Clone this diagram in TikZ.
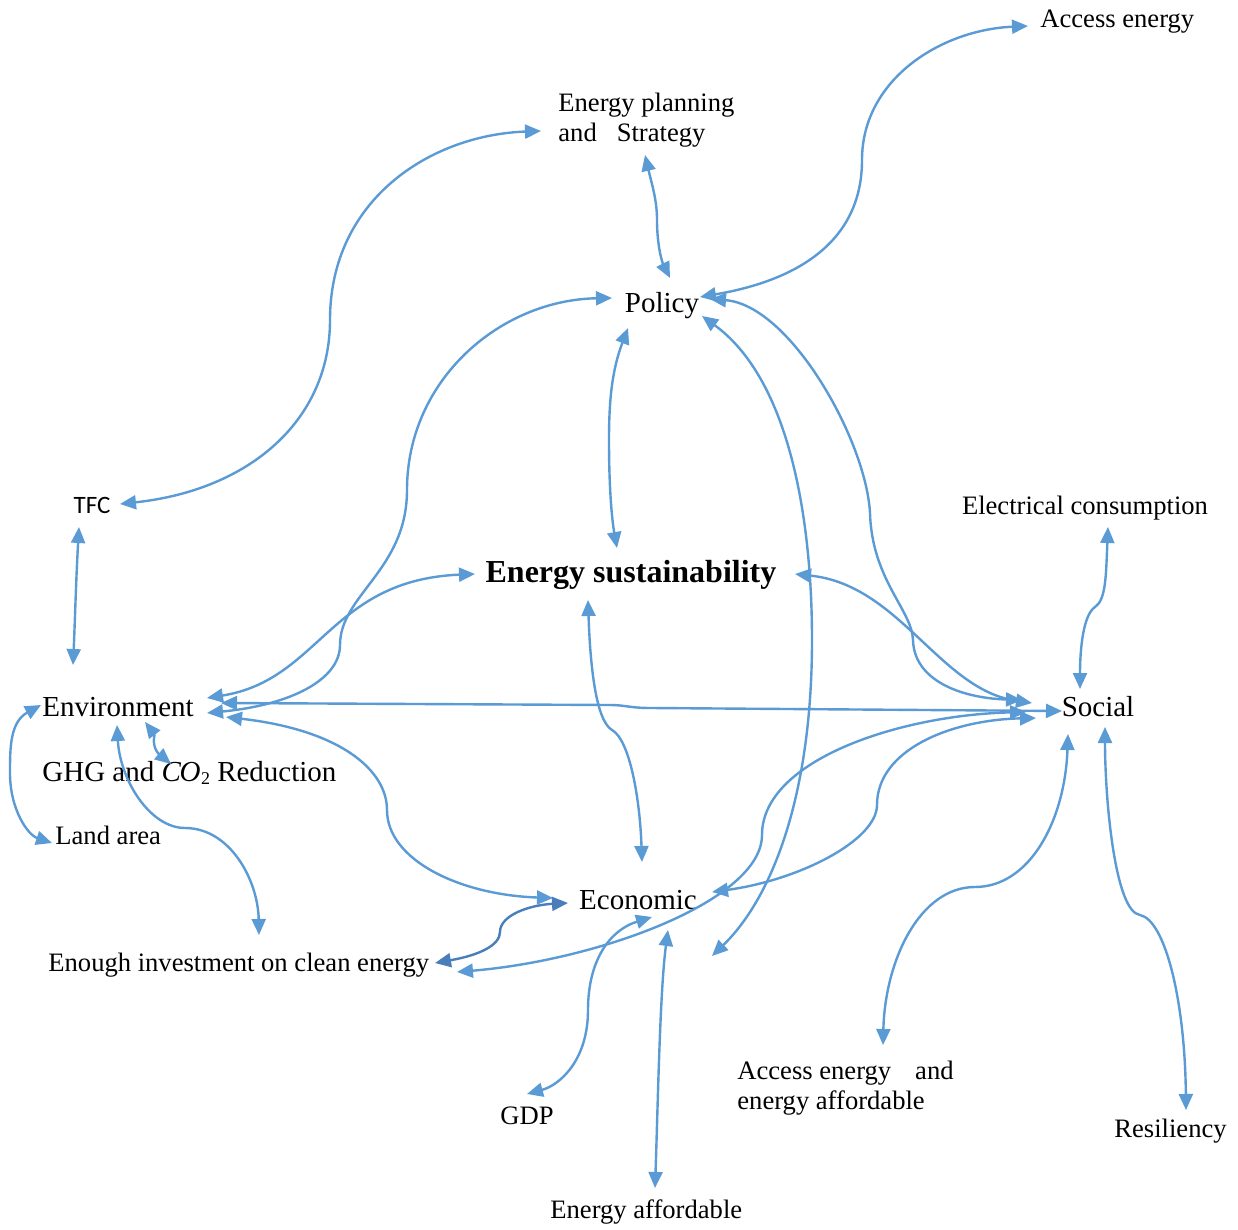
\documentclass[tikz,border=0pt]{standalone}
\usepackage{fontspec}
\setmainfont{Liberation Serif}
\newfontfamily\calibrifont{Carlito}
\usetikzlibrary{arrows.meta}
\definecolor{linkblue}{HTML}{5B9BD5}
\definecolor{darklink}{HTML}{4A7EBB}
\begin{document}
\begin{tikzpicture}[x=0.5pt,y=-0.5pt,
  >={Triangle[length=8pt,width=7pt]},
  mainlbl/.style={inner sep=0pt, font=\fontsize{14.5}{17}\selectfont},
  sublbl/.style={inner sep=0pt, font=\fontsize{13.3}{15}\selectfont},
  link/.style={draw=linkblue, line width=1.2pt, <->},
  darkl/.style={draw=darklink, line width=1.2pt, <->}]
\useasboundingbox[fill=white] (0,0) rectangle (1238,1230);

% ---------- nodes ----------
\node[mainlbl, anchor=base] (policy) at (662,313) {Policy};
\node[inner sep=0pt, anchor=base, font=\fontsize{16}{19}\selectfont\bfseries] (es) at (631,582) {Energy sustainability};
\node[mainlbl, anchor=base] (env) at (118,716) {Environment};
\node[mainlbl, anchor=base] (soc) at (1098,716) {Social};
\node[mainlbl, anchor=base] (eco) at (638,909) {Economic};
\node[mainlbl, anchor=base west] (ghg) at (42,781) {GHG and {\itshape C\kern-0.05em O}\kern0.02em\raisebox{-0.25ex}{\fontsize{9}{10}\selectfont 2} Reduction};
\node[sublbl, anchor=base west] (land) at (55,844) {Land area};
\node[sublbl, anchor=base west] (inv) at (48,971) {Enough investment on clean energy};
\node[inner sep=0pt, anchor=base, font=\calibrifont\fontsize{12.5}{15}\selectfont] (tfc) at (92,513) {TFC};
\node[sublbl, anchor=base] (elec) at (1085,514) {Electrical consumption};
\node[sublbl, anchor=base west] (acc) at (1040,28) {Access energy};
\node[sublbl, anchor=north west, align=left] (plan) at (558,93) {Energy planning\\and\hspace{0.75em}Strategy};
\node[sublbl, anchor=base west] (gdp) at (500,1124) {GDP};
\node[sublbl, anchor=north west, align=left] (aea) at (737,1061) {Access energy\hspace{0.9em}and\\energy affordable};
\node[sublbl, anchor=base west] (res) at (1114,1137) {Resiliency};
\node[sublbl, anchor=base west] (eaf) at (550,1218) {Energy affordable};

% ---------- connector end points ----------
\coordinate (tfc-r) at (120,504);
\coordinate (tfc-b) at (79,527);
\coordinate (plan-l) at (541,131);
\coordinate (plan-b) at (645,155);
\coordinate (acc-l) at (1028,26);
\coordinate (pol-t) at (670,278);
\coordinate (pol-l) at (612,298);
\coordinate (pol-r1) at (700,297);
\coordinate (pol-r2) at (710,299);
\coordinate (pol-r3) at (702,316);
\coordinate (pol-b) at (628,328);
\coordinate (es-t) at (617,548);
\coordinate (es-l) at (475,574);
\coordinate (es-r) at (795,574);
\coordinate (es-b) at (588,600);
\coordinate (env-t) at (73,665);
\coordinate (env-l) at (41,705);
\coordinate (env-r1) at (207,698);
\coordinate (env-r2) at (207,713);
\coordinate (env-r3) at (221,703);
\coordinate (env-r4) at (226,717);
\coordinate (env-b1) at (145,722);
\coordinate (env-b2) at (117,725);
\coordinate (ghg-t) at (171,764);
\coordinate (land-l) at (52,843);
\coordinate (inv-t) at (259,935);
\coordinate (inv-r1) at (435,963);
\coordinate (inv-r2) at (457,972);
\coordinate (eco-l1) at (553,898);
\coordinate (eco-l2) at (568,903);
\coordinate (eco-t) at (642,862);
\coordinate (eco-r) at (712,892);
\coordinate (eco-b1) at (652,917);
\coordinate (eco-b2) at (668,930);
\coordinate (gdp-t) at (527,1094);
\coordinate (eaf-t) at (655,1188);
\coordinate (free) at (712,956);
\coordinate (soc-t) at (1080,689);
\coordinate (soc-l1) at (1022,700);
\coordinate (soc-l2) at (1032,703);
\coordinate (soc-l3) at (1062,711);
\coordinate (soc-l4) at (1026,712);
\coordinate (soc-l5) at (1036,718);
\coordinate (soc-b1) at (1068,734);
\coordinate (soc-b2) at (1105,727);
\coordinate (elec-b) at (1108,527);
\coordinate (aea-t) at (883,1045);
\coordinate (res-t) at (1186,1110);

% ---------- connectors ----------
\draw[link] (tfc-r) .. controls (250,490) and (330,420) .. (330,320) .. controls (330,200) and (430,135) .. (plan-l);
\draw[link] (plan-b) .. controls (652,185) and (657,200) .. (657,220) .. controls (657,245) and (662,262) .. (pol-t);
\draw[link] (pol-r1) .. controls (800,280) and (862,240) .. (862,160) .. controls (862,80) and (940,30) .. (acc-l);
\draw[link] (pol-b) .. controls (612,370) and (609,400) .. (609,440) .. controls (609,490) and (612,520) .. (es-t);
\draw[link] (pol-l) .. controls (500,300) and (407,380) .. (407,490) .. controls (407,570) and (340,595) .. (340,645) .. controls (340,680) and (290,705) .. (env-r2);
\draw[link] (env-r1) .. controls (320,680) and (330,580) .. (es-l);
\draw[link] (env-r3) -- (610,705) .. controls (625,705) and (630,708) .. (650,708) -- (soc-l3);
\draw[link] (env-r4) .. controls (340,730) and (387,770) .. (387,810) .. controls (387,860) and (460,895) .. (eco-l1);
\draw[link] (tfc-b) .. controls (76,580) and (75,620) .. (env-t);
\draw[link] (env-b1) .. controls (155,735) and (152,742) .. (156,750) .. controls (160,757) and (165,759) .. (ghg-t);
\draw[link] (env-l) .. controls (10,722) and (10,748) .. (10,773) .. controls (10,810) and (28,835) .. (land-l);
\draw[link] (env-b2) .. controls (120,780) and (150,828) .. (185,828) .. controls (230,828) and (258,880) .. (inv-t);
\draw[darkl] (inv-r1) .. controls (480,955) and (500,945) .. (500,932) .. controls (500,915) and (530,905) .. (eco-l2);
\draw[link] (inv-r2) .. controls (600,960) and (762,900) .. (762,835) .. controls (762,760) and (900,715) .. (soc-l4);
\draw[link] (eco-r) .. controls (800,880) and (877,840) .. (877,805) .. controls (877,750) and (950,720) .. (soc-l5);
\draw[link] (pol-r2) .. controls (790,305) and (866,440) .. (870,513) .. controls (872,580) and (912,610) .. (913,640) .. controls (914,680) and (960,698) .. (soc-l1);
\draw[link] (es-r) .. controls (900,585) and (940,690) .. (soc-l2);
\draw[link] (pol-r3) .. controls (790,380) and (812,520) .. (812,640) .. controls (812,800) and (770,900) .. (free);
\draw[link] (es-b) .. controls (590,660) and (595,720) .. (612,730) .. controls (630,740) and (640,800) .. (eco-t);
\draw[link] (eco-b1) .. controls (610,930) and (588,960) .. (588,1010) .. controls (588,1060) and (560,1085) .. (gdp-t);
\draw[link] (eco-b2) .. controls (660,990) and (658,1100) .. (eaf-t);
\draw[link] (soc-b1) .. controls (1065,820) and (1030,887) .. (975,887) .. controls (920,887) and (885,960) .. (aea-t);
\draw[link] (soc-b2) .. controls (1105,800) and (1115,912) .. (1140,915) .. controls (1165,920) and (1185,1000) .. (res-t);
\draw[link] (elec-b) .. controls (1106,575) and (1106,600) .. (1095,607) .. controls (1083,615) and (1080,650) .. (soc-t);
\end{tikzpicture}
\end{document}
